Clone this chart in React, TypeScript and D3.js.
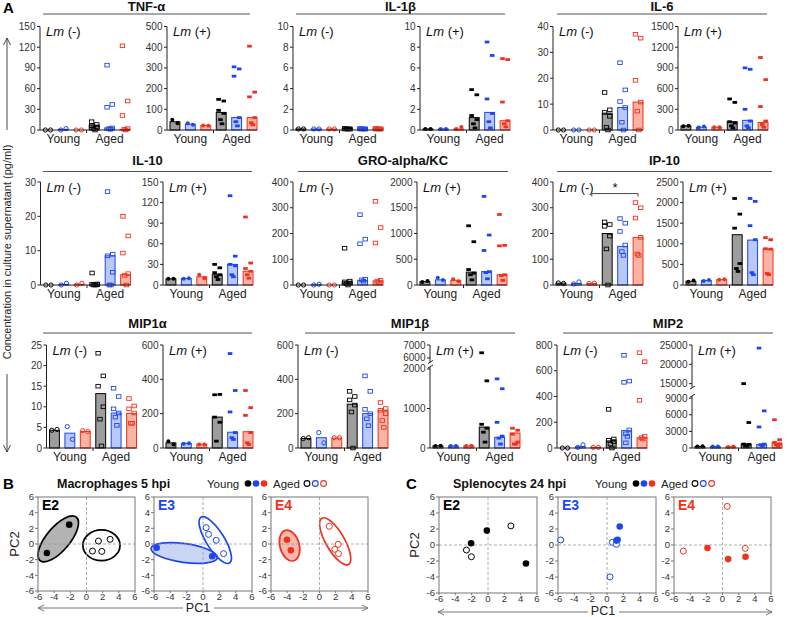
import * as d3 from "d3";

const FONT = "'Liberation Sans', Arial, Helvetica, sans-serif";

// six groups in each bar chart: Young E2/E3/E4, Aged E2/E3/E4
const groupKeys = ["Y-E2", "Y-E3", "Y-E4", "A-E2", "A-E3", "A-E4"];
const darkColors = ["#000000", "#1c46f0", "#f2301c"];
const lightColors = ["#9d9d9d", "#b9c8f5", "#f8b3a5"];

// ---- TNF-α
const tnfNegTicks = [0, 30, 60, 90, 120, 150];
const tnfNegBars = [0, 1, 0, 7, 3, 1];
const tnfNegPts = [[0, 0], [0, 2], [0, 0], [12, 8, 6, 4, 2, 0], [94, 37, 33, 3, 2, 1], [122, 42, 21, 2, 1, 0]];
const tnfPosTicks = [0, 100, 200, 300, 400, 500];
const tnfPosBars = [40, 28, 22, 85, 60, 60];
const tnfPosPts = [[50, 33], [33, 25], [22, 20], [148, 140, 95, 80, 50, 30], [305, 295, 260, 60, 40, 20], [405, 183, 160, 60, 35, 25]];

// ---- IL-1β
const il1NegTicks = [0, 2, 4, 6, 8, 10];
const il1NegBars = [0.1, 0.1, 0.1, 0.15, 0.15, 0.15];
const il1NegPts = [[0.1, 0.1], [0.1, 0.1], [0.1, 0.1], [0.15, 0.1, 0.1, 0.1, 0.1, 0.1], [0.15, 0.1, 0.1, 0.1, 0.1, 0.1], [0.15, 0.1, 0.1, 0.1, 0.1, 0.1]];
const il1PosTicks = [0, 2, 4, 6, 8, 10];
const il1PosBars = [0.1, 0.1, 0.1, 1.2, 1.7, 0.9];
const il1PosPts = [[0.1, 0.1], [0.1, 0.1], [0.1, 0.3], [3.9, 3.4, 1.4, 1.0, 0.6, 0.2], [8.5, 7.2, 3.0, 1.6, 0.8, 0.2], [6.9, 6.8, 2.7, 0.9, 0.6, 0.3]];

// ---- IL-6
const il6NegTicks = [0, 10, 20, 30, 40];
const il6NegBars = [0, 0, 0, 6.5, 8.7, 10.8];
const il6NegPts = [[0, 0], [0, 0], [0, 0], [14.5, 7.8, 6.8, 5.3, 1, 0], [26, 15.5, 11, 8.7, 3, 0], [37, 35.5, 19.2, 10.8, 7.3, 0]];
const il6PosTicks = [0, 300, 600, 900, 1200, 1500];
const il6PosBars = [58, 40, 40, 120, 140, 110];
const il6PosPts = [[55, 60], [35, 50], [40, 40], [450, 400, 120, 100, 60, 30], [900, 880, 300, 130, 60, 30], [1050, 730, 340, 130, 80, 40]];

// ---- IL-10
const il10NegTicks = [0, 10, 20, 30];
const il10NegBars = [0, 0.2, 0.2, 0.2, 8.5, 3];
const il10NegPts = [[0, 0], [0, 0.5], [0, 0.5], [3.5, 0.3, 0.2, 0.1, 0, 0], [27.2, 9, 8.5, 3.7, 0, 0], [20, 14.3, 9.3, 3.3, 2.8, 0]];
const il10PosTicks = [0, 30, 60, 90, 120, 150];
const il10PosBars = [9, 9.5, 12, 15, 30, 20];
const il10PosPts = [[9, 9], [9, 10], [15, 10], [30, 25, 18, 15, 12, 8], [130, 42, 30, 28, 15, 12], [99, 32, 24, 20, 15, 10]];

// ---- GRO-alpha/KC
const groNegTicks = [0, 100, 200, 300, 400];
const groNegBars = [0, 1, 0, 12, 18, 16];
const groNegPts = [[0, 0], [0, 3], [0, 0], [143, 15, 12, 8, 5, 0], [273, 178, 160, 22, 20, 15], [325, 223, 163, 18, 15, 10]];
const groPosTicks = [0, 500, 1000, 1500, 2000];
const groPosBars = [65, 100, 90, 250, 260, 200];
const groPosPts = [[60, 80], [140, 95], [110, 75], [1150, 840, 300, 230, 200, 100], [1720, 970, 670, 260, 240, 120], [1370, 770, 760, 200, 180, 90]];

// ---- IP-10
const ip10NegTicks = [0, 100, 200, 300, 400];
const ip10NegBars = [7, 6, 6, 200, 150, 185];
const ip10NegPts = [[8, 6], [4, 12], [6, 7], [245, 235, 228, 190, 140, 0], [258, 240, 208, 155, 130, 115], [320, 300, 260, 185, 120, 115]];
const ip10PosTicks = [0, 500, 1000, 1500, 2000, 2500];
const ip10PosBars = [90, 110, 130, 1220, 1090, 870];
const ip10PosPts = [[80, 110], [100, 120], [130, 140], [2100, 1720, 1380, 520, 400, 330], [2100, 2030, 1440, 1100, 300, 250], [1150, 1100, 880, 870, 280, 250]];

// ---- MIP1α
const mip1aNegTicks = [0, 5, 10, 15, 20, 25];
const mip1aNegBars = [4.3, 3.6, 4.0, 13.2, 8.5, 8.4];
const mip1aNegPts = [[4.3, 4.5], [5.2, 2.1], [4.2, 4.0], [23, 17.5, 15, 10, 7, 0.5], [14.5, 12.5, 9.5, 8.5, 7.5, 5.5], [12, 10.2, 9.5, 8.5, 6, 6]];
const mip1aPosTicks = [0, 200, 400, 600];
const mip1aPosBars = [30, 27, 22, 180, 92, 95];
const mip1aPosPts = [[40, 20], [25, 28], [20, 20], [310, 312, 180, 150, 40], [550, 335, 210, 90, 60, 50], [335, 235, 190, 90, 30, 20]];

// ---- MIP1β
const mip1bNegTicks = [0, 200, 400, 600];
const mip1bNegBars = [55, 60, 58, 255, 200, 220];
const mip1bNegPts = [[55, 60], [90, 30], [60, 60], [330, 300, 280, 250, 210, 0], [420, 330, 225, 200, 170, 130], [265, 230, 220, 200, 160, 120]];
const mip1bPosTicks = [0, 1000, 2000, 6000, 7000];
const mip1bPosBars = [55, 50, 55, 530, 270, 380];
const mip1bPosPts = [[50, 60], [50, 50], [50, 60], [6400, 1700, 600, 500, 400, 150], [1750, 1500, 650, 300, 250, 100], [500, 450, 350, 150, 100, 100]];

// ---- MIP2
const mip2NegTicks = [0, 200, 400, 600, 800];
const mip2NegBars = [0, 10, 5, 55, 135, 80];
const mip2NegPts = [[0, 0], [5, 25], [5, 5], [300, 70, 60, 50, 30, 0], [720, 520, 510, 140, 110, 90, 40], [740, 670, 370, 90, 80, 70]];
const mip2PosTicks = [0, 3000, 6000, 9000, 15000, 20000, 25000];
const mip2PosBars = [280, 250, 220, 700, 600, 900];
const mip2PosPts = [[250, 300], [250, 250], [200, 250], [15000, 4600, 700, 650, 400, 300], [24200, 6700, 3800, 700, 600, 400], [5100, 1500, 1000, 700, 600, 400]];

// ---- PCA, macrophages 5 hpi  (PC1, PC2)
const macE2Young = [[-4.9, -1.15], [-2.14, 2.47]];
const macE2Aged = [[0.74, -0.9], [1.48, 0.38], [1.89, -0.94], [2.92, 0.6]];
const macE3Young = [[-5.67, -0.47], [1.13, -1.57]];
const macE3Aged = [[0.39, 2.09], [0.68, 1.23], [1.62, 0.47], [2.52, -1.23]];
const macE4Young = [[-4.03, 0.55], [-3.54, -0.81]];
const macE4Aged = [[1.21, 2.26], [2.31, -0.04], [1.9, -0.68], [2.35, -1.23]];
// ellipses: cx, cy, rx, ry, angle (deg)
const macE2Ellipses = [[-3.5, 0.65, 3.5, 1.45, 50], [1.85, -0.17, 2.3, 1.9, 0]];
const macE3Ellipses = [[-2.3, -1.15, 4.1, 1.15, -8], [1.5, 0.5, 3.3, 1.1, -58]];
const macE4Ellipses = [[-3.7, -0.2, 1.95, 1.2, -75], [1.94, 0.34, 3.3, 1.15, -60]];

// ---- PCA, splenocytes 24 hpi
const splE2Young = [[-2.07, 0.21], [-0.14, 1.8], [4.65, -2.31]];
const splE2Aged = [[-2.64, -0.63], [-2.03, -1.47], [2.8, 2.39]];
const splE3Young = [[1.56, 2.31], [1.3, 0.65], [1.15, 0.55]];
const splE3Aged = [[-5.67, 0.63], [0.66, 0.34], [1.15, 0.08], [0.37, -3.99]];
const splE4Young = [[-1.86, -0.38], [0.7, -1.76], [2.85, -1.47]];
const splE4Aged = [[0.58, 4.83], [-4.85, -0.76], [2.81, -0.42]];

const pcaTicks = [-6, -4, -2, 0, 2, 4, 6];

const rowTops = [26.5, 182, 345];
const rowZeros = [130, 285, 448];
const rowTitleY = [10.5, 165, 328];
const rowLineY = [14, 171.5, 333];

const cytokines = [
  { title: "TNF-α", row: 0, line: [43, 250],
    neg: { x: 40, ticks: tnfNegTicks, bars: tnfNegBars, pts: tnfNegPts },
    pos: { x: 167, ticks: tnfPosTicks, bars: tnfPosBars, pts: tnfPosPts } },
  { title: "IL-1β", row: 0, line: [296, 505],
    neg: { x: 293, ticks: il1NegTicks, bars: il1NegBars, pts: il1NegPts },
    pos: { x: 420, ticks: il1PosTicks, bars: il1PosBars, pts: il1PosPts } },
  { title: "IL-6", row: 0, line: [557, 767],
    neg: { x: 553, ticks: il6NegTicks, bars: il6NegBars, pts: il6NegPts },
    pos: { x: 678, ticks: il6PosTicks, bars: il6PosBars, pts: il6PosPts } },
  { title: "IL-10", row: 1, line: [43, 252],
    neg: { x: 40.5, ticks: il10NegTicks, bars: il10NegBars, pts: il10NegPts },
    pos: { x: 163, ticks: il10PosTicks, bars: il10PosBars, pts: il10PosPts } },
  { title: "GRO-alpha/KC", row: 1, line: [298, 508],
    neg: { x: 293, ticks: groNegTicks, bars: groNegBars, pts: groNegPts },
    pos: { x: 417, ticks: groPosTicks, bars: groPosBars, pts: groPosPts } },
  { title: "IP-10", row: 1, line: [557, 772],
    neg: { x: 553, ticks: ip10NegTicks, bars: ip10NegBars, pts: ip10NegPts, sig: [2, 5, 355] },
    pos: { x: 683, ticks: ip10PosTicks, bars: ip10PosBars, pts: ip10PosPts } },
  { title: "MIP1α", row: 2, line: [43, 252],
    neg: { x: 46.5, ticks: mip1aNegTicks, bars: mip1aNegBars, pts: mip1aNegPts },
    pos: { x: 163, ticks: mip1aPosTicks, bars: mip1aPosBars, pts: mip1aPosPts } },
  { title: "MIP1β", row: 2, line: [305, 515],
    neg: { x: 298, ticks: mip1bNegTicks, bars: mip1bNegBars, pts: mip1bNegPts },
    pos: { x: 430, ticks: mip1bPosTicks, bars: mip1bPosBars, pts: mip1bPosPts,
      brk: { lowMax: 2000, lowFrac: 0.767, upMin: 6000, upFrac: 0.874 } } },
  { title: "MIP2", row: 2, line: [563, 773],
    neg: { x: 557, ticks: mip2NegTicks, bars: mip2NegBars, pts: mip2NegPts },
    pos: { x: 692, ticks: mip2PosTicks, bars: mip2PosBars, pts: mip2PosPts,
      brk: { lowMax: 9000, lowFrac: 0.484, upMin: 15000, upFrac: 0.625 } } },
];

function makeY(sub, top, zero) {
  const H = zero - top;
  if (!sub.brk) {
    const s = d3.scaleLinear().domain([0, d3.max(sub.ticks)]).range([zero, top]);
    return { y: (v) => s(v), segs: [[zero, top]] };
  }
  const { lowMax, lowFrac, upMin, upFrac } = sub.brk;
  const lo = d3.scaleLinear().domain([0, lowMax]).range([zero, zero - lowFrac * H]);
  const hi = d3.scaleLinear().domain([upMin, d3.max(sub.ticks)]).range([zero - upFrac * H, top]);
  const y = (v) => (v <= (lowMax + upMin) / 2 ? lo(v) : hi(v));
  return { y, segs: [[zero, lo(lowMax) - 2], [hi(upMin) + 4, top]] };
}

function BarPlot({ sub, top, zero, infected }) {
  const axisX = sub.x;
  const x = d3.scaleBand().domain(groupKeys).range([axisX + 3, axisX + 90]).paddingInner(0.36);
  const bw = x.bandwidth();
  const { y, segs } = makeY(sub, top, zero);
  const fmt = d3.format("d");
  const youngMid = x("Y-E3") + bw / 2;
  const agedMid = x("A-E3") + bw / 2;
  const splitX = (x("Y-E4") + bw + x("A-E2")) / 2;
  return (
    <g>
      {/* bars */}
      {groupKeys.map((k, i) => (
        <rect key={k} x={x(k)} y={y(sub.bars[i])} width={bw} height={zero - y(sub.bars[i])}
          fill={lightColors[i % 3]} stroke={darkColors[i % 3]} strokeWidth={1} />
      ))}
      {/* points */}
      {groupKeys.map((k, i) => {
        const cx = x(k) + bw / 2;
        const col = darkColors[i % 3];
        const young = i < 3;
        return sub.pts[i].map((v, j) => {
          const px = cx + (j % 2 === 0 ? -2.6 : 2.6) * (sub.pts[i].length > 2 && j >= 4 ? 0.3 : 1);
          const py = y(v);
          if (young) {
            return infected
              ? <circle key={j} cx={px} cy={py} r={2} fill={col} />
              : <circle key={j} cx={px} cy={py} r={2.1} fill="none" stroke={col} strokeWidth={1} />;
          }
          return infected
            ? <rect key={j} x={px - 2.3} y={py - 1.4} width={4.6} height={2.8} fill={col} />
            : <rect key={j} x={px - 2.2} y={py - 1.8} width={4.4} height={3.6} fill="none" stroke={col} strokeWidth={0.9} />;
        });
      })}
      {/* y axis */}
      {segs.map((s, i) => (
        <line key={i} x1={axisX} x2={axisX} y1={s[0]} y2={s[1]} stroke="#222" strokeWidth={1} />
      ))}
      {sub.brk && (
        <g stroke="#222" strokeWidth={1}>
          <line x1={axisX - 2} x2={axisX + 3} y1={segs[0][1] + 1} y2={segs[0][1] - 2} />
          <line x1={axisX - 2} x2={axisX + 3} y1={segs[1][0] + 1.5} y2={segs[1][0] - 1.5} />
        </g>
      )}
      {sub.ticks.map((t) => (
        <g key={t}>
          <line x1={axisX - 3} x2={axisX} y1={y(t)} y2={y(t)} stroke="#222" />
          <text x={axisX - 4.5} y={y(t)} dy="0.35em" textAnchor="end" fontSize={10} fill="#333">{fmt(t)}</text>
        </g>
      ))}
      {/* x axis */}
      <line x1={axisX} x2={axisX + 90} y1={zero} y2={zero} stroke="#222" strokeWidth={1} />
      <line x1={splitX} x2={splitX} y1={zero} y2={zero + 3} stroke="#222" />
      <text x={youngMid} y={zero + 12.5} textAnchor="middle" fontSize={12} fill="#222">Young</text>
      <text x={agedMid} y={zero + 12.5} textAnchor="middle" fontSize={12} fill="#222">Aged</text>
      {/* Lm label */}
      <text x={axisX + 6} y={top + 9.5} fontSize={13} fill="#111">
        <tspan fontStyle="italic">Lm</tspan>
        <tspan>{infected ? " (+)" : " (-)"}</tspan>
      </text>
      {sub.sig && (() => {
        const [a, b, v] = sub.sig;
        const x1 = x(groupKeys[a]) + bw / 2;
        const x2 = x(groupKeys[b]) + bw / 2;
        const yy = y(v);
        return (
          <g>
            <path d={`M${x1},${yy + 3}V${yy}H${x2}V${yy + 3}`} fill="none" stroke="#333" strokeWidth={0.9} />
            <text x={(x1 + x2) / 2} y={yy - 1.5} textAnchor="middle" fontSize={13} fill="#111">*</text>
          </g>
        );
      })()}
    </g>
  );
}

function PcaPlot({ x0, x1, y0, y1, label, ci, young, aged, ellipses }) {
  const x = d3.scaleLinear().domain([-6, 6]).range([x0, x1]);
  const y = d3.scaleLinear().domain([-6, 6]).range([y1, y0]);
  const k = (x1 - x0) / 12;
  const col = darkColors[ci];
  const fill = ci === 0 ? "#b3b3b3" : ci === 1 ? "#c9d5f3" : "#f6b9ad";
  return (
    <g>
      {ellipses && ellipses.map((e, i) => (
        <ellipse key={i} cx={0} cy={0} rx={e[2] * k} ry={e[3] * k}
          transform={`translate(${x(e[0])},${y(e[1])}) rotate(${-e[4]})`}
          fill={i === 0 ? fill : "none"} stroke={col} strokeWidth={1.7} />
      ))}
      <line x1={x(0)} x2={x(0)} y1={y0} y2={y1} stroke="#999" strokeDasharray="3,2" strokeWidth={0.8} />
      <line x1={x0} x2={x1} y1={y(0)} y2={y(0)} stroke="#999" strokeDasharray="3,2" strokeWidth={0.8} />
      <rect x={x0} y={y0} width={x1 - x0} height={y1 - y0} fill="none" stroke="#777" strokeWidth={1} />
      {pcaTicks.map((t) => (
        <g key={t} fill="#333" fontSize={9.5}>
          <line x1={x0 - 3} x2={x0} y1={y(t)} y2={y(t)} stroke="#777" />
          <text x={x0 - 4} y={y(t)} dy="0.35em" textAnchor="end">{t}</text>
          <line x1={x(t)} x2={x(t)} y1={y1} y2={y1 + 2} stroke="#777" />
          <text x={x(t)} y={y1 + 9} textAnchor="middle">{t}</text>
        </g>
      ))}
      {aged.map((p, i) => (
        <circle key={"a" + i} cx={x(p[0])} cy={y(p[1])} r={3} fill="#fff" stroke={col} strokeWidth={1} />
      ))}
      {young.map((p, i) => (
        <circle key={"y" + i} cx={x(p[0])} cy={y(p[1])} r={3.3} fill={col} />
      ))}
      <text x={x0 + 4} y={y0 + 13} fontSize={14} fontWeight="bold" fill={col}>{label}</text>
    </g>
  );
}

function Legend({ x, y }) {
  return (
    <g fontSize={11.5} fill="#222">
      <text x={x} y={y} dy="0.35em">Young</text>
      {darkColors.map((c, i) => <circle key={"f" + i} cx={x + 41 + i * 8} cy={y} r={3.3} fill={c} />)}
      <text x={x + 66} y={y} dy="0.35em">Aged</text>
      {darkColors.map((c, i) => <circle key={"o" + i} cx={x + 100 + i * 8.3} cy={y} r={2.9} fill="none" stroke={c} strokeWidth={1.1} />)}
    </g>
  );
}

function Arrow({ x1, x2, y }) {
  return (
    <g stroke="#666" strokeWidth={0.9} fill="none">
      <line x1={x1} x2={x2} y1={y} y2={y} />
      {x2 > x1
        ? <path d={`M${x2 - 6},${y - 3}L${x2},${y}L${x2 - 6},${y + 3}`} />
        : <path d={`M${x2 + 6},${y - 3}L${x2},${y}L${x2 + 6},${y + 3}`} />}
    </g>
  );
}

export default function App() {
  return (
    <svg width={790} height={617} fontFamily={FONT}
      style={{ position: "absolute", left: 0, top: 0, background: "#fff" }}>
      <text x={3} y={12.5} fontSize={15} fontWeight="bold">A</text>

      {/* vertical axis label */}
      <text transform="translate(11,252) rotate(-90)" textAnchor="middle" fontSize={11} fill="#222">
        Concentration in culture supernatant (pg/ml)
      </text>
      <g stroke="#333" strokeWidth={0.9} fill="none">
        <line x1={7} x2={7} y1={130} y2={38} />
        <path d="M3.5,45L7,38L10.5,45" />
        <line x1={7} x2={7} y1={374} y2={452} />
        <path d="M3.5,445L7,452L10.5,445" />
      </g>

      {cytokines.map((c) => (
        <g key={c.title}>
          <text x={(c.line[0] + c.line[1]) / 2} y={rowTitleY[c.row]} textAnchor="middle" fontSize={13} fontWeight="bold" fill="#111">
            {c.title}
          </text>
          <line x1={c.line[0]} x2={c.line[1]} y1={rowLineY[c.row]} y2={rowLineY[c.row]} stroke="#555" strokeWidth={1.2} />
          <BarPlot sub={c.neg} top={rowTops[c.row]} zero={rowZeros[c.row]} infected={false} />
          <BarPlot sub={c.pos} top={rowTops[c.row]} zero={rowZeros[c.row]} infected={true} />
        </g>
      ))}

      {/* B */}
      <text x={3} y={489} fontSize={15} fontWeight="bold">B</text>
      <text x={57} y={487.5} fontSize={12.5} fontWeight="bold" fill="#111">Macrophages 5 hpi</text>
      <Legend x={207} y={483.5} />
      <PcaPlot x0={38} x1={135} y0={497} y1={591} label="E2" ci={0} young={macE2Young} aged={macE2Aged} ellipses={macE2Ellipses} />
      <PcaPlot x0={154} x1={252} y0={497} y1={591} label="E3" ci={1} young={macE3Young} aged={macE3Aged} ellipses={macE3Ellipses} />
      <PcaPlot x0={271} x1={368} y0={497} y1={591} label="E4" ci={2} young={macE4Young} aged={macE4Aged} ellipses={macE4Ellipses} />
      <text transform="translate(19,544) rotate(-90)" textAnchor="middle" fontSize={13} fill="#222">PC2</text>
      <text x={198} y={612} textAnchor="middle" fontSize={12.5} fill="#222">PC1</text>
      <Arrow x1={183} x2={38} y={608} />
      <Arrow x1={214} x2={368} y={608} />

      {/* C */}
      <text x={406} y={489} fontSize={15} fontWeight="bold">C</text>
      <text x={453} y={487.5} fontSize={12.5} fontWeight="bold" fill="#111">Splenocytes 24 hpi</text>
      <Legend x={595} y={483.5} />
      <PcaPlot x0={439} x1={537} y0={497} y1={593} label="E2" ci={0} young={splE2Young} aged={splE2Aged} />
      <PcaPlot x0={558} x1={656} y0={497} y1={593} label="E3" ci={1} young={splE3Young} aged={splE3Aged} />
      <PcaPlot x0={674} x1={771} y0={497} y1={593} label="E4" ci={2} young={splE4Young} aged={splE4Aged} />
      <text transform="translate(419,545) rotate(-90)" textAnchor="middle" fontSize={13} fill="#222">PC2</text>
      <text x={603} y={615} textAnchor="middle" fontSize={12.5} fill="#222">PC1</text>
      <Arrow x1={588} x2={438} y={612} />
      <Arrow x1={619} x2={772} y={612} />
    </svg>
  );
}
